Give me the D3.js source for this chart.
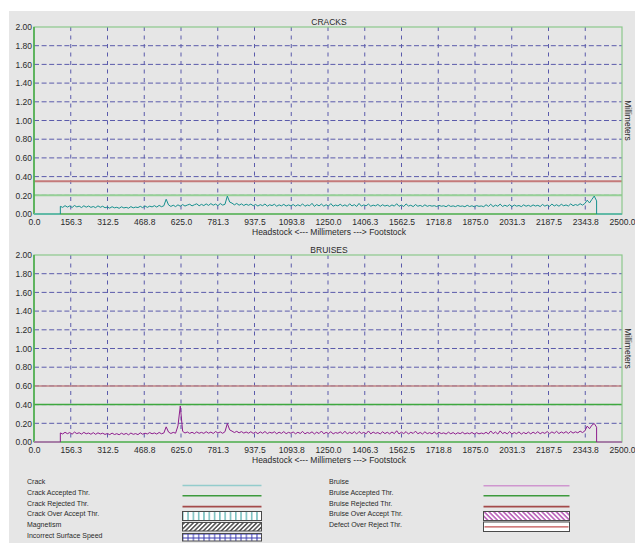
<!DOCTYPE html>
<html>
<head>
<meta charset="utf-8">
<script src="https://cdn.jsdelivr.net/npm/d3@7/dist/d3.min.js"></script>
<style>
  html, body { margin: 0; padding: 0; background: #ffffff; }
  svg { display: block; font-family: "Liberation Sans", Arial, sans-serif; }
</style>
</head>
<body>
<svg id="chart" width="635" height="543"></svg>
<script>
// ---- Data ----------------------------------------------------------------
const xTickValues = [0, 156.25, 312.5, 468.75, 625, 781.25, 937.5, 1093.75, 1250,
  1406.25, 1562.5, 1718.75, 1875, 2031.25, 2187.5, 2343.75, 2500];
const xTickLabels = ["0.0", "156.3", "312.5", "468.8", "625.0", "781.3", "937.5", "1093.8", "1250.0",
  "1406.3", "1562.5", "1718.8", "1875.0", "2031.3", "2187.5", "2343.8", "2500.0"];
const yTickValues = [0, 0.2, 0.4, 0.6, 0.8, 1.0, 1.2, 1.4, 1.6, 1.8, 2.0];
const yTickLabels = ["0.00", "0.20", "0.40", "0.60", "0.80", "1.00", "1.20", "1.40", "1.60", "1.80", "2.00"];

// measured along the roll: first sample position, spacing (mm), end of roll
const sampleStart = 112;
const sampleStep = 10;
const rollLength = 2500;

const crackValues = [
  0.082,0.071,0.089,0.074,0.086,0.070,0.091,0.076,0.084,0.069,0.088,0.073,0.085,0.071,0.080,0.068,0.087,0.072,0.083,0.067,
  0.074,0.063,0.078,0.066,0.072,0.061,0.077,0.065,0.071,0.062,0.079,0.066,0.074,0.069,0.082,0.068,0.086,0.071,0.084,0.076,
  0.089,0.074,0.092,0.078,0.088,0.158,0.097,0.081,0.094,0.079,0.098,0.083,0.101,0.085,0.096,0.104,0.087,0.099,0.109,0.088,
  0.103,0.090,0.108,0.092,0.111,0.094,0.106,0.089,0.112,0.095,0.104,0.192,0.128,0.116,0.098,0.113,0.094,0.108,0.091,0.105,
  0.093,0.106,0.088,0.102,0.085,0.100,0.089,0.107,0.084,0.099,0.090,0.104,0.083,0.098,0.087,0.103,0.085,0.097,0.088,0.101,
  0.084,0.099,0.086,0.108,0.083,0.097,0.088,0.114,0.082,0.101,0.087,0.106,0.084,0.099,0.085,0.111,0.083,0.096,0.087,0.104,
  0.085,0.098,0.082,0.109,0.086,0.100,0.081,0.113,0.084,0.097,0.088,0.106,0.083,0.095,0.087,0.102,0.082,0.099,0.085,0.094,
  0.081,0.097,0.084,0.110,0.082,0.096,0.080,0.108,0.085,0.094,0.079,0.101,0.083,0.092,0.080,0.098,0.082,0.091,0.084,0.089,
  0.080,0.092,0.083,0.088,0.078,0.094,0.081,0.087,0.079,0.091,0.082,0.086,0.078,0.093,0.080,0.088,0.077,0.090,0.082,0.086,
  0.078,0.099,0.081,0.104,0.079,0.095,0.083,0.106,0.080,0.094,0.082,0.100,0.078,0.096,0.084,0.091,0.079,0.098,0.083,0.093,
  0.081,0.097,0.085,0.093,0.080,0.102,0.084,0.096,0.082,0.106,0.086,0.099,0.083,0.104,0.088,0.097,0.085,0.108,0.089,0.101,
  0.092,0.110,0.095,0.112,0.148,0.118,0.156,0.192,0.140
];

const bruiseValues = [
  0.097,0.086,0.104,0.089,0.101,0.084,0.106,0.090,0.099,0.085,0.103,0.088,0.096,0.083,0.100,0.082,0.098,0.086,0.094,0.081,
  0.091,0.079,0.095,0.080,0.089,0.078,0.094,0.081,0.092,0.077,0.096,0.082,0.090,0.079,0.098,0.083,0.094,0.086,0.101,0.088,
  0.097,0.085,0.102,0.088,0.096,0.162,0.106,0.091,0.103,0.094,0.172,0.385,0.114,0.096,0.107,0.092,0.104,0.090,0.108,0.093,
  0.103,0.092,0.110,0.094,0.106,0.091,0.112,0.096,0.108,0.093,0.110,0.198,0.130,0.116,0.101,0.114,0.098,0.111,0.095,0.107,
  0.094,0.110,0.092,0.106,0.089,0.108,0.093,0.112,0.090,0.104,0.095,0.109,0.088,0.105,0.092,0.111,0.089,0.103,0.094,0.107,
  0.088,0.104,0.091,0.113,0.087,0.102,0.092,0.109,0.086,0.105,0.090,0.117,0.088,0.103,0.091,0.110,0.087,0.101,0.093,0.108,
  0.089,0.115,0.087,0.104,0.090,0.110,0.086,0.112,0.091,0.103,0.088,0.118,0.087,0.106,0.092,0.101,0.086,0.109,0.090,0.104,
  0.087,0.107,0.089,0.120,0.086,0.105,0.090,0.111,0.085,0.104,0.091,0.116,0.088,0.102,0.086,0.109,0.089,0.100,0.087,0.106,
  0.086,0.103,0.090,0.098,0.085,0.105,0.088,0.101,0.084,0.099,0.089,0.104,0.086,0.097,0.088,0.102,0.085,0.100,0.087,0.096,
  0.088,0.104,0.086,0.118,0.089,0.107,0.085,0.119,0.090,0.103,0.087,0.110,0.086,0.101,0.089,0.108,0.085,0.102,0.088,0.106,
  0.087,0.105,0.090,0.110,0.088,0.103,0.092,0.112,0.089,0.108,0.093,0.114,0.090,0.107,0.094,0.111,0.091,0.113,0.095,0.109,
  0.098,0.116,0.101,0.118,0.170,0.142,0.180,0.198,0.158
];

const crackThresholds = { accepted: 0.20, rejected: 0.35 };
const bruiseThresholds = { accepted: 0.40, rejected: 0.60 };

const legendLeft = ["Crack", "Crack Accepted Thr.", "Crack Rejected Thr.", "Crack Over Accept Thr.",
  "Magnetism", "Incorrect Surface Speed"];
const legendRight = ["Bruise", "Bruise Accepted Thr.", "Bruise Rejected Thr.", "Bruise Over Accept Thr.",
  "Defect Over Reject Thr."];

// ---- Drawing --------------------------------------------------------------
const svg = d3.select("#chart");
const textColor = "#2a2a2a";
const gridColor = "#5b5bab";

svg.append("rect").attr("x", 9).attr("y", 11).attr("width", 626).attr("height", 532)
  .attr("fill", "#e6e6e6");

// hatch patterns for the legend swatches
const defs = svg.append("defs");
const pVert = defs.append("pattern").attr("id", "pVert").attr("patternUnits", "userSpaceOnUse")
  .attr("width", 5.3).attr("height", 10);
pVert.append("rect").attr("width", 5.3).attr("height", 10).attr("fill", "#ffffff");
pVert.append("line").attr("x1", 2.6).attr("x2", 2.6).attr("y1", 0).attr("y2", 10)
  .attr("stroke", "#2a9a9a").attr("stroke-width", 1);

const pDiag = defs.append("pattern").attr("id", "pDiag").attr("patternUnits", "userSpaceOnUse")
  .attr("width", 3.2).attr("height", 3.2).attr("patternTransform", "rotate(45)");
pDiag.append("rect").attr("width", 3.2).attr("height", 3.2).attr("fill", "#ffffff");
pDiag.append("line").attr("x1", 0.8).attr("x2", 0.8).attr("y1", 0).attr("y2", 3.2)
  .attr("stroke", "#222").attr("stroke-width", 1.2);

const pGrid = defs.append("pattern").attr("id", "pGrid").attr("patternUnits", "userSpaceOnUse")
  .attr("width", 5.3).attr("height", 4);
pGrid.append("rect").attr("width", 5.3).attr("height", 4).attr("fill", "#ffffff");
pGrid.append("line").attr("x1", 2.6).attr("x2", 2.6).attr("y1", 0).attr("y2", 4)
  .attr("stroke", "#3a3ab0").attr("stroke-width", 1);
pGrid.append("line").attr("x1", 0).attr("x2", 5.3).attr("y1", 2).attr("y2", 2)
  .attr("stroke", "#3a3ab0").attr("stroke-width", 1);

const pBack = defs.append("pattern").attr("id", "pBack").attr("patternUnits", "userSpaceOnUse")
  .attr("width", 3.4).attr("height", 3.4).attr("patternTransform", "rotate(-45)");
pBack.append("rect").attr("width", 3.4).attr("height", 3.4).attr("fill", "#ffffff");
pBack.append("line").attr("x1", 0.9).attr("x2", 0.9).attr("y1", 0).attr("y2", 3.4)
  .attr("stroke", "#b04ab0").attr("stroke-width", 1.4);

const x = d3.scaleLinear().domain([0, rollLength]).range([34, 622]);

function drawPanel(cfg) {
  const y = d3.scaleLinear().domain([0, 2]).range([cfg.bottom, cfg.top]);
  const g = svg.append("g");

  // dashed grid
  g.append("g").selectAll("line").data(yTickValues.slice(1, -1)).join("line")
    .attr("x1", x(0)).attr("x2", x(rollLength))
    .attr("y1", d => y(d)).attr("y2", d => y(d))
    .attr("stroke", gridColor).attr("stroke-width", 1).attr("stroke-dasharray", "5,2.6");
  g.append("g").selectAll("line").data(xTickValues.slice(1, -1)).join("line")
    .attr("x1", d => x(d)).attr("x2", d => x(d))
    .attr("y1", y(2)).attr("y2", y(0))
    .attr("stroke", gridColor).attr("stroke-width", 1).attr("stroke-dasharray", "4,4.5");

  // thresholds
  g.append("line").attr("x1", x(0)).attr("x2", x(rollLength))
    .attr("y1", y(cfg.thr.rejected)).attr("y2", y(cfg.thr.rejected))
    .attr("stroke", cfg.rejColor).attr("stroke-width", cfg.rejWidth);
  g.append("line").attr("x1", x(0)).attr("x2", x(rollLength))
    .attr("y1", y(cfg.thr.accepted)).attr("y2", y(cfg.thr.accepted))
    .attr("stroke", cfg.accColor).attr("stroke-width", cfg.accWidth);

  // frame
  g.append("rect").attr("x", x(0)).attr("y", y(2))
    .attr("width", x(rollLength) - x(0)).attr("height", y(0) - y(2))
    .attr("fill", "none").attr("stroke", "#8cc98c").attr("stroke-width", 1.2);
  g.append("line").attr("x1", x(0)).attr("x2", x(0)).attr("y1", y(2)).attr("y2", y(0))
    .attr("stroke", "#45aa45").attr("stroke-width", 1.5);
  g.append("line").attr("x1", x(0)).attr("x2", x(rollLength)).attr("y1", y(0)).attr("y2", y(0))
    .attr("stroke", "#5cb35c").attr("stroke-width", 1.5);

  // signal
  const pts = cfg.values.map((v, i) => [sampleStart + i * sampleStep, v]);
  const lastX = sampleStart + (cfg.values.length - 1) * sampleStep;
  const line = d3.line().x(d => x(d[0])).y(d => y(d[1]));
  g.append("path").datum([[0, 0], [sampleStart, 0]]).attr("d", line)
    .attr("fill", "none").attr("stroke", cfg.zeroColor).attr("stroke-width", 1.5);
  g.append("path").datum([[lastX, 0], [rollLength, 0]]).attr("d", line)
    .attr("fill", "none").attr("stroke", cfg.zeroColor).attr("stroke-width", 1.5);
  g.append("path").datum([[sampleStart, 0], ...pts, [lastX, 0]]).attr("d", line)
    .attr("fill", "none").attr("stroke", cfg.lineColor).attr("stroke-width", 1)
    .attr("stroke-linejoin", "round");

  // axes
  const yAxis = d3.axisLeft(y).tickValues(yTickValues)
    .tickFormat((d, i) => yTickLabels[i]).tickSize(0).tickPadding(2);
  const ya = g.append("g").attr("transform", `translate(${x(0)},0)`).call(yAxis);
  ya.select(".domain").remove();
  ya.selectAll("text").attr("font-size", 8.5).attr("fill", textColor)
    .attr("font-family", "Liberation Sans, Arial, sans-serif");

  const xAxis = d3.axisBottom(x).tickValues(xTickValues)
    .tickFormat((d, i) => xTickLabels[i]).tickSize(0).tickPadding(5);
  const xa = g.append("g").attr("transform", `translate(0,${y(0)})`).call(xAxis);
  xa.select(".domain").remove();
  xa.selectAll("text").attr("font-size", 8.5).attr("fill", textColor)
    .attr("font-family", "Liberation Sans, Arial, sans-serif");

  // titles
  g.append("text").attr("x", 329).attr("y", cfg.top - 2.5).attr("text-anchor", "middle")
    .attr("font-size", 8.5).attr("fill", textColor).text(cfg.title);
  g.append("text").attr("x", 329).attr("y", cfg.bottom + 20.5).attr("text-anchor", "middle")
    .attr("font-size", 8.5).attr("fill", textColor)
    .text("Headstock <--- Millimeters ---> Footstock");
  g.append("text")
    .attr("transform", `translate(625,${(cfg.top + cfg.bottom) / 2}) rotate(90)`)
    .attr("text-anchor", "middle").attr("font-size", 8.5).attr("fill", textColor)
    .text("Millimeters");
}

drawPanel({
  title: "CRACKS", top: 27, bottom: 214, values: crackValues, thr: crackThresholds,
  lineColor: "#16908e", zeroColor: "#5cb8b8",
  accColor: "#96d096", accWidth: 2, rejColor: "#c47a7a", rejWidth: 2
});
drawPanel({
  title: "BRUISES", top: 255, bottom: 442, values: bruiseValues, thr: bruiseThresholds,
  lineColor: "#8e1e8e", zeroColor: "#b868b8",
  accColor: "#3ea83e", accWidth: 1.5, rejColor: "#c08484", rejWidth: 1.5
});

// ---- Legend ---------------------------------------------------------------
const legendY = d3.scaleLinear().domain([0, 5]).range([484, 538]);
const lg = svg.append("g").attr("font-size", 7).attr("fill", textColor);
lg.selectAll("text.l").data(legendLeft).join("text").attr("class", "l")
  .attr("x", 27).attr("y", (d, i) => legendY(i)).text(d => d);
lg.selectAll("text.r").data(legendRight).join("text").attr("class", "r")
  .attr("x", 329).attr("y", (d, i) => legendY(i)).text(d => d);

function swatchLine(x0, x1, yy, color, w) {
  svg.append("line").attr("x1", x0).attr("x2", x1).attr("y1", yy).attr("y2", yy)
    .attr("stroke", color).attr("stroke-width", w);
}
function swatchBox(x0, x1, y0, h, fill) {
  svg.append("rect").attr("x", x0).attr("y", y0).attr("width", x1 - x0).attr("height", h)
    .attr("fill", fill).attr("stroke", "#4a4a4a").attr("stroke-width", 1);
}
const LX0 = 182.5, LX1 = 261.5, RX0 = 483.5, RX1 = 569.5;
swatchLine(LX0, LX1, 485.5, "#93cccc", 1.6);
swatchLine(LX0, LX1, 495.8, "#3d9a3d", 1.4);
swatchLine(LX0, LX1, 506.6, "#a44a4a", 1.8);
swatchBox(LX0, LX1, 511.5, 9, "url(#pVert)");
swatchBox(LX0, LX1, 522.5, 8.5, "url(#pDiag)");
swatchBox(LX0, LX1, 533.5, 7.5, "url(#pGrid)");

swatchLine(RX0, RX1, 485.8, "#cf96cf", 1.6);
swatchLine(RX0, RX1, 495.8, "#3d9a3d", 1.4);
swatchLine(RX0, RX1, 506.6, "#a44a4a", 1.8);
swatchBox(RX0, RX1, 511.5, 9, "url(#pBack)");
swatchBox(RX0, RX1, 522, 9.5, "#ffffff");
swatchLine(RX0 + 1, RX1 - 1, 526.8, "#c05050", 1.2);
</script>
</body>
</html>
